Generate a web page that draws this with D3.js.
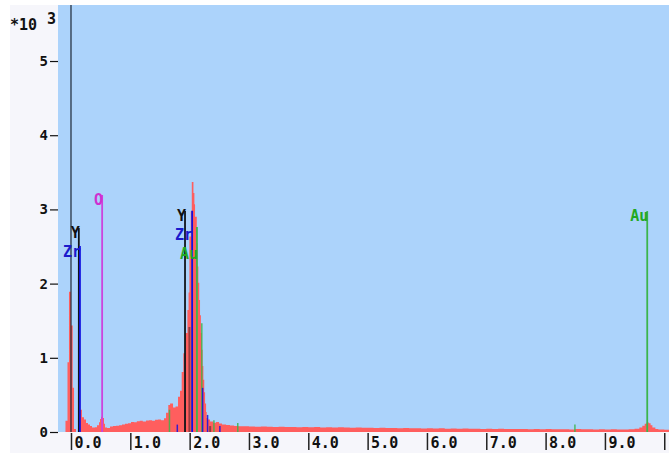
<!DOCTYPE html>
<html><head><meta charset="utf-8">
<script src="https://cdn.jsdelivr.net/npm/d3@7"></script>
<style>
html,body{margin:0;padding:0;background:#fff;overflow:hidden}
text{font-family:"DejaVu Sans Mono",monospace;font-weight:bold}
</style>
</head><body>
<svg id="chart" width="669" height="455"></svg>
<script>
// EDS spectrum: counts per energy step, [keV, counts]
const spectrum = [
  [-0.22,0],[-0.093,150],[-0.059,940],[-0.034,1890],[0.0,1435],[0.029,595],[0.051,40],[0.084,0],
  [0.143,300],[0.185,200],[0.219,170],[0.253,120],[0.287,100],[0.32,80],[0.354,60],[0.405,65],
  [0.438,90],[0.472,130],[0.489,175],[0.506,205],[0.54,190],[0.556,110],[0.573,60],[0.607,55],
  [0.658,75],[0.708,80],[0.759,85],[0.81,92],[0.86,100],[0.91,110],[0.961,118],[1.012,135],
  [1.06,130],[1.11,145],[1.16,150],[1.21,140],[1.265,155],[1.315,160],[1.366,150],[1.417,165],
  [1.467,170],[1.518,160],[1.568,185],[1.602,260],[1.64,365],[1.67,385],[1.72,330],[1.762,345],
  [1.804,475],[1.838,555],[1.866,810],[1.894,1060],[1.923,1335],[1.962,1645],[1.982,1880],
  [1.996,2635],[2.019,2975],[2.036,3370],[2.064,3220],[2.08,3070],[2.091,2900],[2.12,2545],
  [2.133,2230],[2.147,2010],[2.162,1780],[2.175,1575],[2.19,1335],[2.204,1110],[2.218,890],
  [2.231,705],[2.246,535],[2.26,385],[2.277,270],[2.288,190],[2.31,170],[2.344,140],[2.395,125],
  [2.445,135],[2.496,115],[2.546,100],[2.614,95],[2.68,88],[2.75,82],[2.82,79],[2.9,76],
  [3.0,74],[3.1,71],[3.2,75],[3.3,70],[3.4,67],[3.5,72],[3.6,66],[3.7,69],[3.8,64],[3.9,68],
  [4.0,63],[4.1,67],[4.2,62],[4.3,65],[4.4,59],[4.5,63],[4.6,60],[4.7,58],[4.8,61],[4.9,56],
  [5.0,58],[5.1,55],[5.2,57],[5.3,53],[5.4,55],[5.5,51],[5.6,54],[5.7,50],[5.8,52],[5.9,48],
  [6.0,51],[6.1,47],[6.2,49],[6.3,45],[6.4,48],[6.5,44],[6.6,46],[6.7,43],[6.8,45],[6.9,42],
  [7.0,44],[7.1,41],[7.2,43],[7.3,40],[7.4,42],[7.5,39],[7.6,41],[7.7,38],[7.8,40],[7.9,37],
  [8.0,39],[8.1,36],[8.2,38],[8.3,37],[8.4,35],[8.5,39],[8.6,36],[8.7,37],[8.8,34],[8.9,36],
  [9.0,35],[9.1,36],[9.2,34],[9.3,35],[9.4,38],[9.5,44],[9.58,60],[9.63,85],[9.67,110],
  [9.7,127],[9.74,118],[9.77,90],[9.8,60],[9.85,42],[9.9,35],[10.0,32],[10.1,30]
];

// Identified lines with labels
const peakElements = ["Y", "Zr", "O", "Y", "Zr", "Au", "Au"];
const peakEnergies = [0.132, 0.151, 0.525, 1.922, 2.042, 2.123, 9.713];
const peakHeights  = [2749, 2507, 3194, 2978, 2982, 2763, 2978];

// Secondary lines of the same elements (unlabelled)
const minorElements = ["Au", "Zr", "Y", "Au", "Zr", "Zr", "Y", "Au", "Zr", "Au", "Au"];
const minorEnergies = [1.660, 1.792, 1.996, 2.205, 2.219, 2.302, 2.346, 2.409, 2.51, 2.811, 8.494];
const minorHeights  = [300, 100, 1415, 1465, 595, 230, 80, 160, 80, 120, 100];

const xTicks = [0, 1, 2, 3, 4, 5, 6, 7, 8, 9, 10];
const xTickLabels = ["0.0", "1.0", "2.0", "3.0", "4.0", "5.0", "6.0", "7.0", "8.0", "9.0", ""];
const yTicks = [0, 1000, 2000, 3000, 4000, 5000];

const lineColor  = {Y: "#101418", Zr: "#1010e0", O: "#cc44dd", Au: "#3cb44b"};
const labelColor = {Y: "#101010", Zr: "#1a1acc", O: "#d030d0", Au: "#22a822"};

const W = 669, H = 455;
const plot = {left: 58, right: 669, top: 5, bottom: 432};

const svg = d3.select("#chart");
const x = d3.scaleLinear().domain([-0.219, 10.08]).range([plot.left, plot.right]);
const y = d3.scaleLinear().domain([0, 5755]).range([plot.bottom, plot.top]);

// panels
svg.append("rect").attr("x", 0).attr("y", 0).attr("width", W).attr("height", H).attr("fill", "#ffffff");
svg.append("rect").attr("x", 10).attr("y", 5).attr("width", W - 10).attr("height", 448).attr("fill", "#f6f6fb");
svg.append("rect").attr("x", plot.left).attr("y", plot.top)
  .attr("width", plot.right - plot.left).attr("height", plot.bottom - plot.top).attr("fill", "#acd3fb");

svg.append("clipPath").attr("id", "plotClip").append("rect")
  .attr("x", plot.left).attr("y", plot.top)
  .attr("width", plot.right - plot.left).attr("height", plot.bottom - plot.top);

const g = svg.append("g").attr("clip-path", "url(#plotClip)");

// spectrum
const area = d3.area()
  .x(d => x(d[0])).y0(y(0)).y1(d => y(d[1]))
  .curve(d3.curveStepAfter);
g.append("path").datum(spectrum).attr("d", area).attr("fill", "#ff5e5e");

// energy cursor at 0 keV
g.append("line").attr("x1", x(0)).attr("x2", x(0)).attr("y1", plot.top).attr("y2", plot.bottom)
  .attr("stroke", "#1c2636").attr("stroke-width", 1.2);

// minor lines
minorEnergies.forEach((e, i) => {
  const el = minorElements[i];
  g.append("line")
    .attr("x1", x(e)).attr("x2", x(e)).attr("y1", y(minorHeights[i])).attr("y2", y(0))
    .attr("stroke", lineColor[el]).attr("stroke-width", el === "Y" ? 2 : 1.5)
    .attr("stroke-opacity", el === "Y" ? 0.45 : 0.85);
});

// labelled lines, labels stacked per cluster
const peaks = peakEnergies.map((e, i) => ({e, el: peakElements[i], h: peakHeights[i]}))
  .sort((a, b) => a.e - b.e);
let groups = [];
peaks.forEach(p => {
  const last = groups[groups.length - 1];
  if (last && p.e - last[last.length - 1].e < 0.25) last.push(p); else groups.push([p]);
});
groups.forEach(grp => {
  const top = d3.min(grp, p => y(p.h));
  grp.forEach((p, idx) => {
    g.append("line")
      .attr("x1", x(p.e)).attr("x2", x(p.e)).attr("y1", y(p.h)).attr("y2", y(0))
      .attr("stroke", lineColor[p.el]).attr("stroke-width", 1.8);
    svg.append("text")
      .attr("x", x(p.e) + 1).attr("y", top + 5 + idx * 19)
      .attr("dy", "0.36em").attr("text-anchor", "end")
      .attr("font-size", 15).attr("fill", labelColor[p.el])
      .text(p.el);
  });
});

// y axis
const yAxis = svg.append("g").attr("transform", `translate(${plot.left},0)`)
  .call(d3.axisLeft(y).tickValues(yTicks).tickFormat(d => d / 1000).tickSize(8).tickPadding(2));
yAxis.select(".domain").remove();
yAxis.selectAll(".tick line").attr("stroke", "#111").attr("stroke-width", 1.2);
yAxis.selectAll(".tick text").attr("font-size", 14).attr("fill", "#111")
  .style("font-family", '"DejaVu Sans Mono",monospace').style("font-weight", "bold");

// x axis
const xAxis = svg.append("g").attr("transform", `translate(0,${plot.bottom + 1})`)
  .call(d3.axisBottom(x).tickValues(xTicks).tickFormat((d, i) => xTickLabels[i]).tickSize(17));
xAxis.select(".domain").remove();
xAxis.selectAll(".tick line").attr("stroke", "#222").attr("stroke-width", 1.5);
xAxis.selectAll(".tick text").attr("text-anchor", "start").attr("x", 3).attr("y", 15).attr("dy", 0)
  .attr("font-size", 15).attr("fill", "#111")
  .style("font-family", '"DejaVu Sans Mono",monospace').style("font-weight", "bold");

// scale multiplier
svg.append("text").attr("x", 10).attr("y", 30).attr("font-size", 15).attr("fill", "#111").text("*10");
svg.append("text").attr("x", 47).attr("y", 24).attr("font-size", 15).attr("fill", "#111").text("3");
</script>
</body></html>
